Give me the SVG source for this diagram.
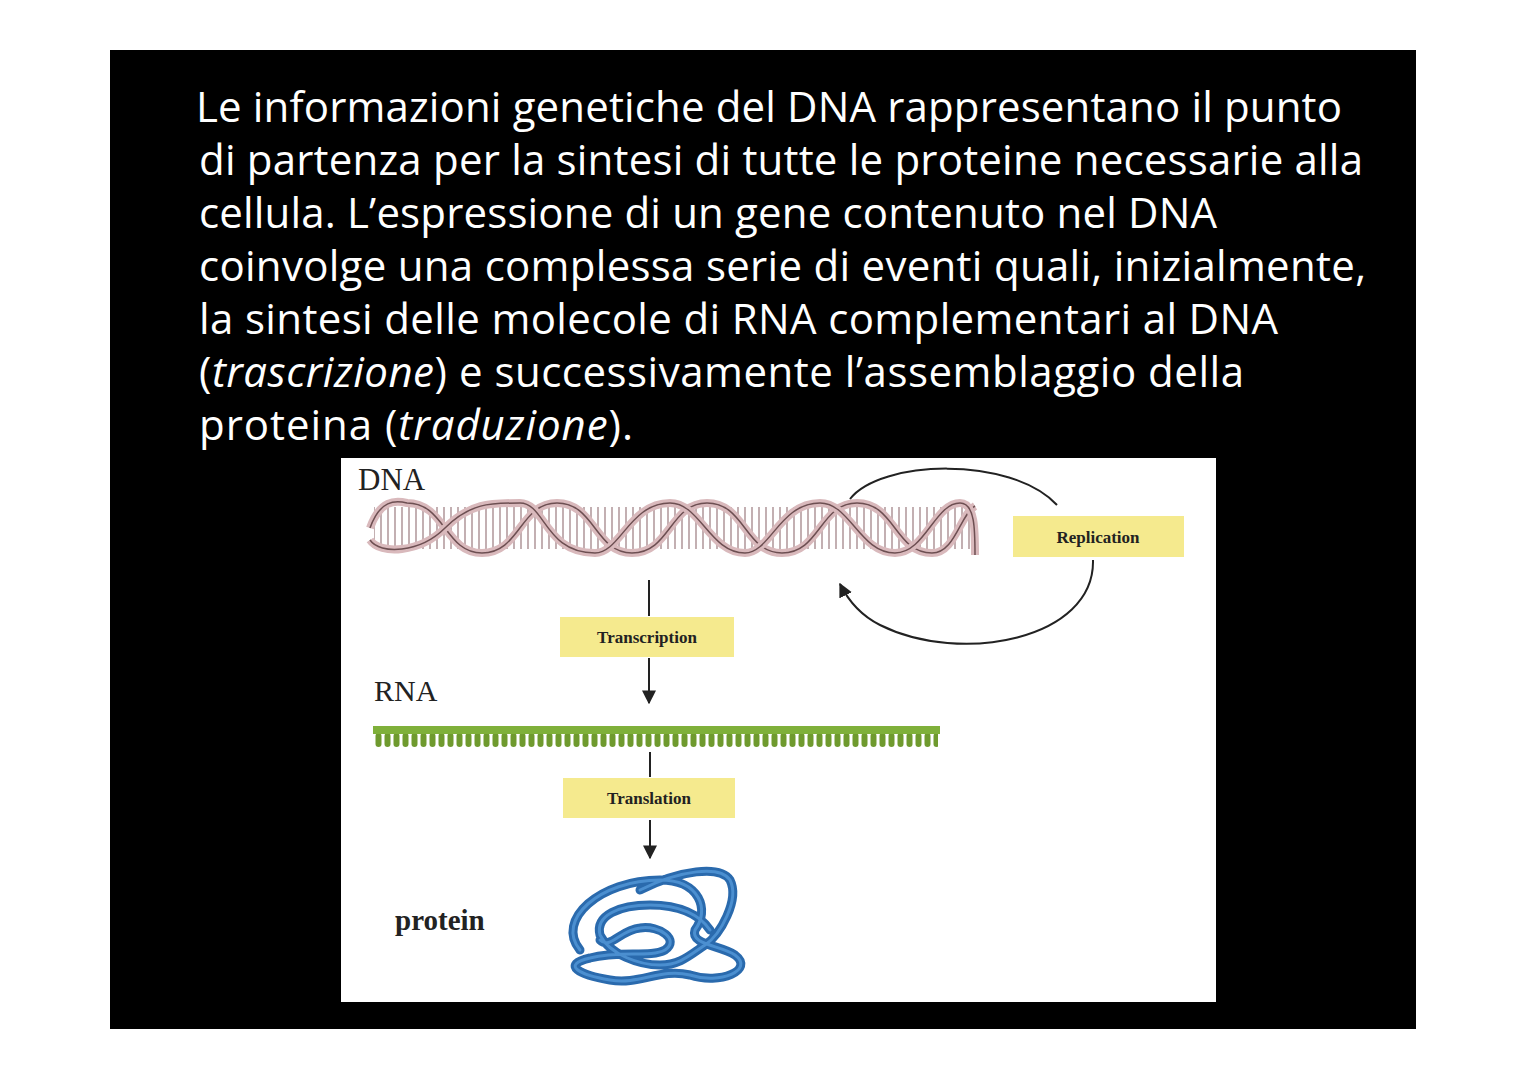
<svg xmlns="http://www.w3.org/2000/svg" width="1527" height="1080" viewBox="0 0 1527 1080">
<style>
.t{font-family:"Open Sans","Noto Sans",sans-serif;font-size:42px;fill:#fff}
.s{font-family:"Liberation Serif",serif;fill:#222}
.box{fill:#f5ea8e}
.ln{stroke:#222;stroke-width:2;fill:none}
</style>
<defs>
<marker id="ah" viewBox="0 0 10 10" refX="9" refY="5" markerWidth="7" markerHeight="7" orient="auto"><path d="M0,0L10,5L0,10z" fill="#222"/></marker>
<pattern id="rung" x="0" y="0" width="7" height="60" patternUnits="userSpaceOnUse"><line x1="3" y1="0" x2="3" y2="60" stroke="#9a7a7e" stroke-width="1.2"/></pattern>
<pattern id="teeth" x="374" y="733" width="9" height="20" patternUnits="userSpaceOnUse"><rect x="1.5" y="0" width="6" height="14" rx="3" fill="#6f9a2e"/></pattern>
</defs>
<rect width="1527" height="1080" fill="#fff"/>
<rect x="110" y="50" width="1306" height="979" fill="#000"/>
<g id="text">
<text class="t" x="196" y="122" textLength="1146">Le informazioni genetiche del DNA rappresentano il punto</text>
<text class="t" x="199" y="175" textLength="1164">di partenza per la sintesi di tutte le proteine necessarie alla</text>
<text class="t" x="199" y="228" textLength="1018">cellula. L’espressione di un gene contenuto nel DNA</text>
<text class="t" x="199" y="281" textLength="1167">coinvolge una complessa serie di eventi quali, inizialmente,</text>
<text class="t" x="199" y="334" textLength="1079">la sintesi delle molecole di RNA complementari al DNA</text>
<text class="t" x="199" y="387" textLength="1045">(<tspan font-style="italic">trascrizione</tspan>) e successivamente l’assemblaggio della</text>
<text class="t" x="199" y="440" textLength="434">proteina (<tspan font-style="italic">traduzione</tspan>).</text>
</g>
<rect x="341" y="458" width="875" height="544" fill="#fff"/>
<g id="dna">
<text class="s" x="358" y="490" font-size="31">DNA</text>
<rect x="374" y="507" width="596" height="42" fill="url(#rung)"/>
<path d="M370,528 C380,500 395,500 407,503 C445,503 445,553 482,553 C520,553 520,503 557,503 C595,503 595,553 632,553 C670,553 670,503 707,503 C745,503 745,553 782,553 C820,553 820,503 857,503 C895,503 895,553 932,553 C955,553 960,515 975,506" fill="none" stroke="#d9b9bc" stroke-width="8"/>
<path d="M370,528 C380,500 395,500 407,503 C445,503 445,553 482,553 C520,553 520,503 557,503 C595,503 595,553 632,553 C670,553 670,503 707,503 C745,503 745,553 782,553 C820,553 820,503 857,503 C895,503 895,553 932,553 C955,553 960,515 975,506" fill="none" stroke="#6d4f52" stroke-width="1.5"/>
<path d="M370,540 C380,555 420,553 445,528 C470,503 490,503 520,503 C545,503 545,553 595,553 C620,553 630,503 670,503 C700,503 710,553 745,553 C770,553 780,503 820,503 C850,503 860,553 895,553 C925,553 935,503 960,503 C975,503 975,530 975,555" fill="none" stroke="#d9b9bc" stroke-width="8"/>
<path d="M370,540 C380,555 420,553 445,528 C470,503 490,503 520,503 C545,503 545,553 595,553 C620,553 630,503 670,503 C700,503 710,553 745,553 C770,553 780,503 820,503 C850,503 860,553 895,553 C925,553 935,503 960,503 C975,503 975,530 975,555" fill="none" stroke="#6d4f52" stroke-width="1.5"/>
</g>
<g id="connectors">
<path class="ln" d="M850,499 C880,460 1010,455 1057,505"/>
<path class="ln" d="M1093,560 C1095,640 960,665 880,625 C860,615 848,600 840,584" marker-end="url(#ah)"/>
<line class="ln" x1="649" y1="580" x2="649" y2="616"/>
<line class="ln" x1="649" y1="658" x2="649" y2="703" marker-end="url(#ah)"/>
<line class="ln" x1="650" y1="752" x2="650" y2="777"/>
<line class="ln" x1="650" y1="820" x2="650" y2="858" marker-end="url(#ah)"/>
</g>
<g id="replication"><rect class="box" x="1013" y="516" width="171" height="41"/><text class="s" x="1098" y="543" font-size="17" font-weight="bold" text-anchor="middle">Replication</text></g>
<g id="transcription"><rect class="box" x="560" y="617" width="174" height="40"/><text class="s" x="647" y="643" font-size="17" font-weight="bold" text-anchor="middle">Transcription</text></g>
<g id="rna">
<text class="s" x="374" y="701" font-size="30">RNA</text>
<rect x="374" y="733" width="564" height="14" fill="url(#teeth)"/>
<rect x="373" y="726" width="567" height="8" fill="#7fb03a"/>
</g>
<g id="translation"><rect class="box" x="563" y="778" width="172" height="40"/><text class="s" x="649" y="804" font-size="17" font-weight="bold" text-anchor="middle">Translation</text></g>
<g id="protein">
<text class="s" x="395" y="930" font-size="29" font-weight="bold">protein</text>
<path d="M580,950 C555,920 600,880 660,880 C700,880 710,910 695,930 C690,945 720,945 735,955 C755,970 720,985 690,975 C660,968 640,985 610,980 C580,975 560,965 590,958 C620,950 650,958 665,950 C680,940 660,925 640,928 C620,930 610,950 600,940 M640,890 C680,870 720,865 730,880 C740,900 720,935 705,945 C690,955 680,965 660,965 C640,965 610,955 600,935 C595,915 620,905 650,905 C680,905 700,915 710,930" fill="none" stroke="#2a6aad" stroke-width="9" stroke-linejoin="round" stroke-linecap="round"/>
<path d="M580,950 C555,920 600,880 660,880 C700,880 710,910 695,930 C690,945 720,945 735,955 C755,970 720,985 690,975 C660,968 640,985 610,980 C580,975 560,965 590,958 C620,950 650,958 665,950 C680,940 660,925 640,928 C620,930 610,950 600,940 M640,890 C680,870 720,865 730,880 C740,900 720,935 705,945 C690,955 680,965 660,965 C640,965 610,955 600,935 C595,915 620,905 650,905 C680,905 700,915 710,930" fill="none" stroke="#4b8fd0" stroke-width="3" stroke-linejoin="round" stroke-linecap="round"/>
</g>
</svg>
